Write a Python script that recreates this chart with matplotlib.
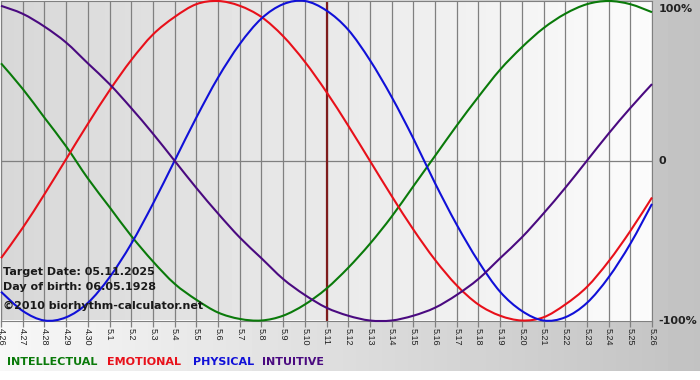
import numpy as np
from matplotlib import pyplot as plt
from matplotlib.path import Path
from matplotlib.patches import PathPatch

# days shown on the x axis (4.26 .. 5.26)
days = ['4.26', '4.27', '4.28', '4.29', '4.30'] + [f'5.{d}' for d in range(1, 27)]

# cycle values, one per day
intellectual = [0.61, 0.45, 0.27, 0.09, -0.11, -0.29, -0.47, -0.63, -0.77, -0.87, -0.95,
                -0.99, -1.00, -0.97, -0.90, -0.80, -0.67, -0.52, -0.35, -0.16, 0.03,
                0.22, 0.40, 0.57, 0.71, 0.83, 0.92, 0.98, 1.00, 0.98, 0.93]
emotional = [-0.61, -0.42, -0.21, 0.01, 0.23, 0.44, 0.63, 0.79, 0.90, 0.98, 1.00,
             0.97, 0.90, 0.78, 0.62, 0.43, 0.22, 0.00, -0.22, -0.43, -0.62,
             -0.78, -0.90, -0.97, -1.00, -0.98, -0.90, -0.79, -0.63, -0.44, -0.23]
physical = [-0.82, -0.94, -1.00, -0.98, -0.89, -0.73, -0.52, -0.27, 0.00, 0.27, 0.52,
            0.73, 0.89, 0.98, 1.00, 0.94, 0.82, 0.63, 0.40, 0.14, -0.14,
            -0.40, -0.63, -0.82, -0.94, -1.00, -0.98, -0.89, -0.73, -0.52, -0.27]
intuitive = [0.97, 0.92, 0.84, 0.74, 0.61, 0.48, 0.33, 0.17, 0.00, -0.17, -0.33,
             -0.48, -0.61, -0.74, -0.84, -0.92, -0.97, -1.00, -1.00, -0.97, -0.92,
             -0.84, -0.74, -0.61, -0.48, -0.33, -0.17, 0.00, 0.17, 0.33, 0.48]

target_day = '5.11'
series = [('INTELLECTUAL', intellectual, '#0a7a0a'),
          ('EMOTIONAL', emotional, '#e8101a'),
          ('PHYSICAL', physical, '#1010d8'),
          ('INTUITIVE', intuitive, '#4a0a80')]
legend_x = [7, 107, 193, 262]


def smooth_path(xs, ys):
    # bezier curve through every point (catmull-rom style tangents)
    p = np.column_stack([xs, ys]).astype(float)
    ext = np.vstack([p[0], p, p[-1]])
    verts = [p[0]]
    codes = [Path.MOVETO]
    for i in range(len(p) - 1):
        a, b, c, d = ext[i], ext[i + 1], ext[i + 2], ext[i + 3]
        verts += [b + (c - a) / 6, c - (d - b) / 6, c]
        codes += [Path.CURVE4] * 3
    return Path(verts, codes)


def main():
    W, H = 700, 380
    fig = plt.figure(figsize=(7, 3.8), dpi=100)

    # figure background: horizontal grey gradient, white strip at the bottom
    bg = fig.add_axes([0, 0, 1, 1], zorder=-10)
    xx = np.linspace(0, 1, W)
    grad = np.tile(0.97 - 0.21 * xx, (H, 1))
    grad[371:, :] = 1.0
    bg.imshow(grad, cmap='gray', vmin=0, vmax=1, aspect='auto', extent=(0, W, H, 0))
    bg.set_xlim(0, W)
    bg.set_ylim(H, 0)
    bg.axis('off')

    top_px, bot_px, left_px, right_px = 1, 320.5, 1, 652
    ax = fig.add_axes([left_px / W, 1 - bot_px / H, (right_px - left_px) / W, (bot_px - top_px) / H])
    x = np.arange(len(days))
    ax.set_xlim(0, len(days) - 1)
    ax.set_ylim(-1, 1)

    # plot area gradient
    inner = np.tile(np.linspace(0.845, 0.985, 200), (2, 1))
    ax.imshow(inner, cmap='gray', vmin=0, vmax=1, aspect='auto',
              extent=(0, len(days) - 1, -1, 1), zorder=0)

    ax.set_xticks(x)
    ax.set_xticklabels(days, rotation=-90, fontsize=6.5, family='Liberation Sans', color='#222222')
    ax.tick_params(axis='x', length=4, width=0.9, color='#808080', pad=1.5)
    ax.set_yticks([])
    ax.grid(axis='x', color='#808080', linewidth=0.9, zorder=1)
    ax.axhline(0, color='#808080', linewidth=0.9, zorder=1)
    for s in ax.spines.values():
        s.set_color('#808080')
        s.set_linewidth(0.8)

    ax.axvline(days.index(target_day), color='#7e1c1c', linewidth=1.6, zorder=2)

    for name, vals, col in series:
        patch = PathPatch(smooth_path(x, vals), facecolor='none', edgecolor=col,
                          linewidth=1.5, zorder=3, clip_on=False)
        ax.add_patch(patch)

    for lab, yv, va in [('100%', 1, 'top'), ('0', 0, 'center'), ('-100%', -1, 'center')]:
        ax.annotate(lab, xy=(1, yv), xycoords=('axes fraction', 'data'),
                    xytext=(4.5, -2 if va == 'top' else 0), textcoords='offset points',
                    ha='left', va=va, fontsize=8, fontweight='bold', color='#222222')

    info = ['Target Date: 05.11.2025', 'Day of birth: 06.05.1928', '\u00a92010 biorhythm-calculator.net']
    for txt, ypx in zip(info, [272, 287, 306]):
        fig.text(3 / W, 1 - ypx / H, txt, ha='left', va='center', fontsize=8,
                 fontweight='bold', color='#1a1a1a')

    for (name, vals, col), lx in zip(series, legend_x):
        fig.text(lx / W, 1 - 362 / H, name, ha='left', va='center', fontsize=8,
                 fontweight='bold', color=col)

    fig.savefig('out.png', dpi=100)


if __name__ == '__main__':
    main()
